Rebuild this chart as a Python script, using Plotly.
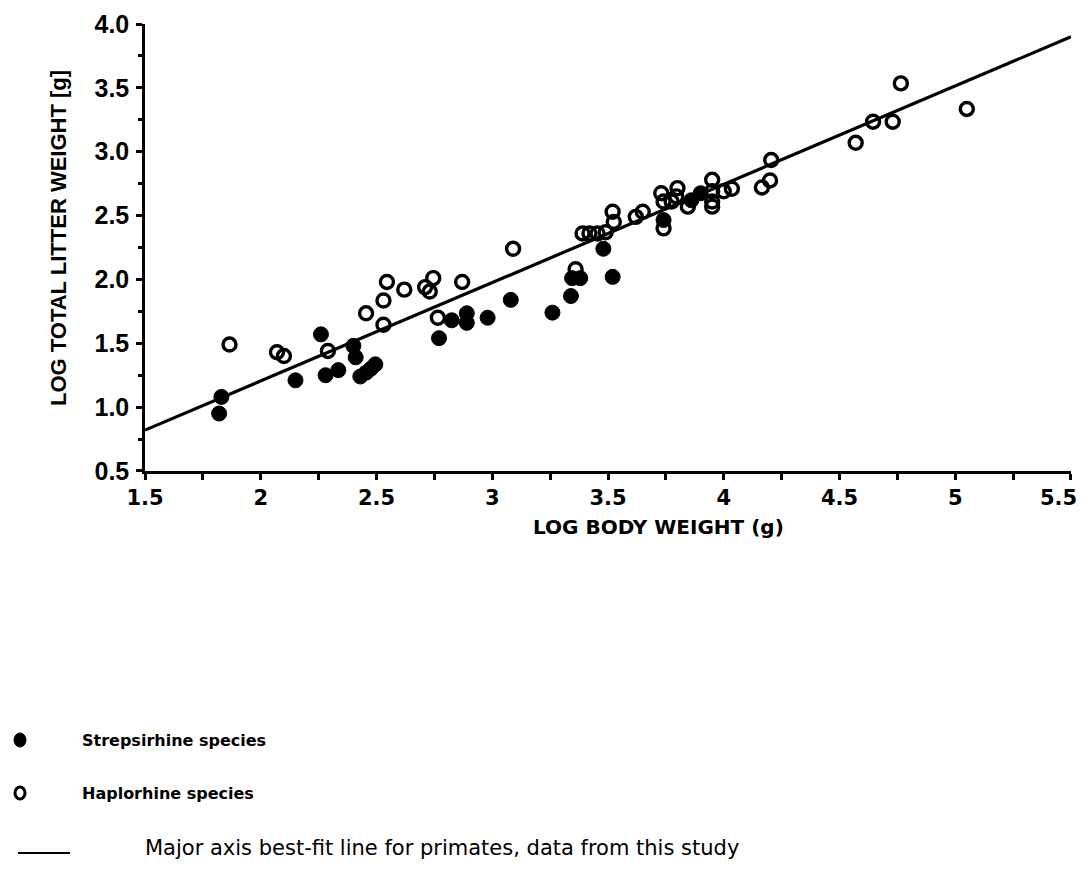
import plotly.graph_objects as go

# ---- data ----
strep_x = [1.83, 1.82, 2.15, 2.26, 2.28, 2.335, 2.40, 2.41, 2.43, 2.455, 2.475, 2.495,
           2.77, 2.825, 2.89, 2.89, 2.98, 3.08, 3.26, 3.34, 3.345, 3.38, 3.52, 3.48,
           3.74, 3.86, 3.90]
strep_y = [1.08, 0.95, 1.21, 1.57, 1.25, 1.29, 1.48, 1.39, 1.24, 1.27, 1.30, 1.335,
           1.54, 1.68, 1.735, 1.66, 1.70, 1.84, 1.74, 1.87, 2.01, 2.01, 2.02, 2.24,
           2.465, 2.62, 2.675]

haplo_x = [1.865, 2.07, 2.10, 2.29, 2.455, 2.53, 2.545, 2.62, 2.53, 2.71, 2.745, 2.73,
           2.87, 2.765, 3.09, 3.39, 3.42, 3.455, 3.49, 3.36, 3.52, 3.525, 3.62, 3.65,
           3.73, 3.80, 3.74, 3.74, 3.775, 3.795, 3.845, 3.95, 3.95, 3.95, 3.95, 4.00,
           4.035, 4.165, 4.20, 4.205, 4.57, 4.645, 4.73, 4.765, 5.05]
haplo_y = [1.49, 1.43, 1.40, 1.44, 1.735, 1.835, 1.98, 1.92, 1.645, 1.94, 2.01, 1.905,
           1.98, 1.70, 2.24, 2.36, 2.36, 2.36, 2.37, 2.08, 2.53, 2.45, 2.49, 2.53,
           2.675, 2.715, 2.61, 2.40, 2.61, 2.65, 2.57, 2.78, 2.69, 2.61, 2.57, 2.69,
           2.71, 2.72, 2.775, 2.935, 3.07, 3.235, 3.235, 3.535, 3.335]

fit_x = [1.5, 5.5]
fit_y = [0.82, 3.90]

x_ticks = [1.5, 2, 2.5, 3, 3.5, 4, 4.5, 5, 5.5]
x_tick_labels = ["1.5", "2", "2.5", "3", "3.5", "4", "4.5", "5", "5.5"]
y_ticks = [0.5, 1.0, 1.5, 2.0, 2.5, 3.0, 3.5, 4.0]
y_tick_labels = ["0.5", "1.0", "1.5", "2.0", "2.5", "3.0", "3.5", "4.0"]

x_title = "LOG BODY WEIGHT (g)"
y_title = "LOG TOTAL LITTER WEIGHT [g]"
legend_labels = ["Strepsirhine species", "Haplorhine species",
                 "Major axis best-fit line for primates, data from this study"]

# ---- layout geometry (pixels) ----
W, H = 1082, 895
L, R, T, B = 145, 11, 24, 424
PW, PH = W - L - R, H - T - B


def px(xp):
    return (xp - L) / PW


def py(yp):
    return (H - B - yp) / PH


fig = go.Figure()

fig.add_trace(go.Scatter(x=fit_x, y=fit_y, mode="lines",
                         line=dict(color="black", width=3.2), showlegend=False,
                         hoverinfo="skip", cliponaxis=False))
fig.add_trace(go.Scatter(x=strep_x, y=strep_y, mode="markers", name=legend_labels[0],
                         marker=dict(symbol="circle", size=15, color="black",
                                     line=dict(color="black", width=1)),
                         showlegend=False))
fig.add_trace(go.Scatter(x=haplo_x, y=haplo_y, mode="markers", name=legend_labels[1],
                         marker=dict(symbol="circle-open", size=13, color="black",
                                     line=dict(color="black", width=3.4)),
                         showlegend=False))

axis_common = dict(showline=True, linecolor="black", linewidth=2.5, showgrid=False,
                   zeroline=False, ticks="outside", tickcolor="black", tickwidth=2.5,
                   ticklen=6)

x_font = dict(family="DejaVu Sans", size=21, color="black", weight="bold")

# the last label would overflow the page edge, so it is drawn as an annotation
fig.update_xaxes(range=[1.4999, 5.5001], tickvals=x_ticks,
                 ticktext=x_tick_labels[:-1] + [""],
                 tickfont=x_font,
                 minor=dict(tickvals=[1.75, 2.25, 2.75, 3.25, 3.75, 4.25, 4.75, 5.25],
                            ticks="outside", ticklen=6,
                            tickwidth=2.5, tickcolor="black"),
                 **axis_common)
fig.add_annotation(x=x_ticks[-1], y=py(498), xref="x", yref="paper",
                   text=x_tick_labels[-1], showarrow=False, xanchor="right",
                   yanchor="middle", xshift=8, font=x_font)

fig.update_yaxes(range=[0.4999, 4.0001], tickvals=y_ticks, ticktext=y_tick_labels,
                 tickfont=dict(family="Liberation Sans", size=25, color="black",
                               weight="bold"),
                 minor=dict(tickvals=[0.75, 1.25, 1.75, 2.25, 2.75, 3.25, 3.75],
                            ticks="outside", ticklen=4,
                            tickwidth=2.5, tickcolor="black"),
                 ticklabelstandoff=2,
                 **axis_common)

# axis titles as annotations (placed like the reference)
fig.add_annotation(x=px(658), y=py(527), xref="paper", yref="paper", text=x_title,
                   showarrow=False, xanchor="center", yanchor="middle",
                   font=dict(family="DejaVu Sans", size=20, color="black",
                             weight="bold"))
fig.add_annotation(x=px(58), y=py(238), xref="paper", yref="paper", text=y_title,
                   showarrow=False, xanchor="center", yanchor="middle", textangle=-90,
                   font=dict(family="Liberation Sans", size=22, color="black",
                             weight="bold"))

# ---- hand-built legend below the chart ----
leg_sym_x = 20
rows = [740, 793]
fig.add_shape(type="circle", xref="paper", yref="paper", xsizemode="pixel",
              ysizemode="pixel", xanchor=px(leg_sym_x), yanchor=py(rows[0]),
              x0=-6, x1=6, y0=-7, y1=7, fillcolor="black",
              line=dict(color="black", width=1))
fig.add_shape(type="circle", xref="paper", yref="paper", xsizemode="pixel",
              ysizemode="pixel", xanchor=px(leg_sym_x), yanchor=py(rows[1]),
              x0=-5, x1=5, y0=-6, y1=6, fillcolor="white",
              line=dict(color="black", width=3))
fig.add_shape(type="line", xref="paper", yref="paper", x0=px(18), x1=px(70),
              y0=py(853), y1=py(853), line=dict(color="black", width=2))

for lbl, yy in zip(legend_labels[:2], rows):
    fig.add_annotation(x=px(80), y=py(yy), xref="paper", yref="paper", text=lbl,
                       showarrow=False, xanchor="left", yanchor="middle",
                       font=dict(family="DejaVu Sans", size=16, color="black",
                                 weight="bold"))
fig.add_annotation(x=px(143), y=py(848), xref="paper", yref="paper",
                   text=legend_labels[2], showarrow=False, xanchor="left",
                   yanchor="middle",
                   font=dict(family="DejaVu Sans", size=21, color="black"))

fig.update_layout(width=W, height=H, margin=dict(l=L, r=R, t=T, b=B),
                  paper_bgcolor="white", plot_bgcolor="white", showlegend=False)

fig.write_html("out.html")
